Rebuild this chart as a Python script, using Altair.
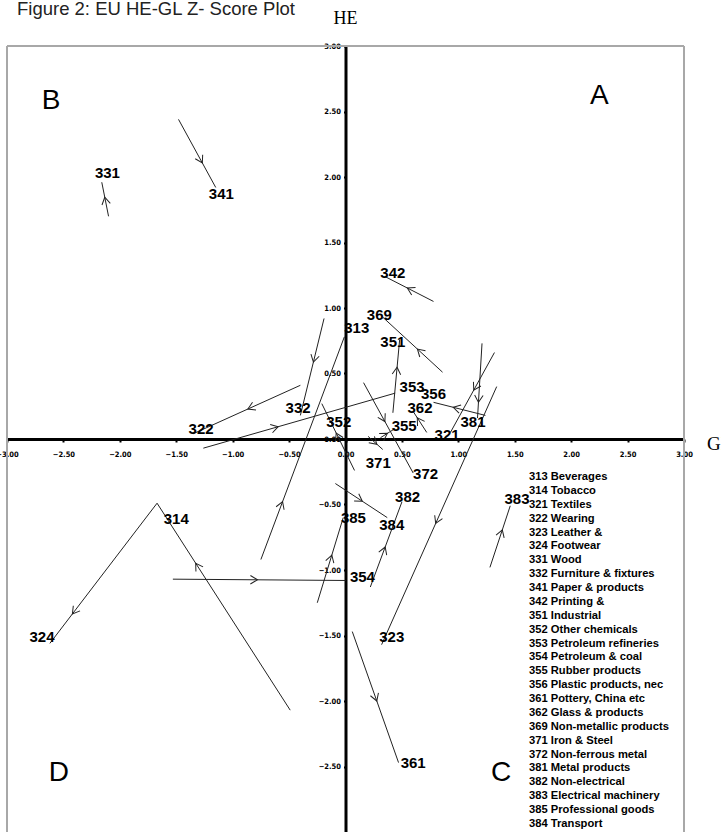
import math
import altair as alt
import pandas as pd

# ---- data -------------------------------------------------------------
codes = ["313", "314", "321", "322", "323", "324", "331", "332", "341", "342",
         "351", "352", "353", "354", "355", "356", "361", "362", "369", "371",
         "372", "381", "382", "383", "385", "384"]
names = ["Beverages", "Tobacco", "Textiles", "Wearing", "Leather &", "Footwear",
         "Wood", "Furniture & fixtures", "Paper & products", "Printing &",
         "Industrial", "Other chemicals", "Petroleum refineries", "Petroleum & coal",
         "Rubber products", "Plastic products, nec", "Pottery, China etc",
         "Glass & products", "Non-metallic products", "Iron & Steel",
         "Non-ferrous metal", "Metal products", "Non-electrical",
         "Electrical machinery", "Professional goods", "Transport"]

# GL (x) and HE (y) z-scores: start and end of each trajectory
start_x = [-0.75, -0.49, 1.32, -0.40, 1.34, -1.67, -2.10, -0.19, -1.48, 0.78,
           0.42, 0.08, -1.26, -1.53, 0.31, 1.24, 0.06, 0.72, 0.86, 0.20,
           0.16, 1.21, 0.22, 1.28, -0.25, -0.09]
start_y = [-0.92, -2.07, 0.66, 0.41, 0.40, -0.49, 1.70, 0.92, 2.44, 1.05,
           0.20, -0.24, -0.07, -1.07, 0.01, 0.18, -1.47, 0.05, 0.51, 0.02,
           0.43, 0.73, -1.13, -0.98, -1.25, -0.34]
end_x = [-0.01, -1.67, 0.93, -1.35, 0.32, -2.62, -2.16, -0.40, -1.15, 0.35,
         0.48, -0.21, 0.44, 0.00, 0.44, 0.78, 0.47, 0.60, 0.33, 0.33,
         0.60, 1.17, 0.50, 1.46, -0.02, 0.37]
end_y = [0.78, -0.49, 0.05, 0.04, -1.57, -1.56, 1.96, 0.18, 1.92, 1.24,
         0.76, 0.27, 0.35, -1.08, 0.08, 0.28, -2.47, 0.21, 0.93, -0.08,
         -0.26, 0.16, -0.48, -0.51, -0.60, -0.60]
# where each code label sits (data units)
label_x = [0.10, -1.50, 0.90, -1.28, 0.41, -2.69, -2.11, -0.42, -1.10, 0.42,
           0.42, -0.06, 0.59, 0.15, 0.52, 0.78, 0.60, 0.66, 0.30, 0.29,
           0.71, 1.13, 0.55, 1.52, 0.07, 0.41]
label_y = [0.85, -0.61, 0.03, 0.08, -1.51, -1.51, 2.03, 0.24, 1.87, 1.27,
           0.74, 0.13, 0.40, -1.05, 0.10, 0.34, -2.47, 0.24, 0.95, -0.18,
           -0.27, 0.13, -0.44, -0.46, -0.60, -0.66]
# fraction along each trajectory where the arrow head sits
arrow_at = [0.26, 0.71, 0.47, 0.49, 0.53, 0.79, 0.56, 0.45, 0.64, 0.54,
            0.62, 0.56, 0.39, 0.49, 0.47, 0.62, 0.53, 0.70, 0.42, 0.60,
            0.43, 0.79, 0.47, 0.61, 0.56, 0.52]

quad_letters = ["A", "B", "C", "D"]
quad_x = [2.25, -2.61, 1.38, -2.54]
quad_y = [2.62, 2.58, -2.55, -2.55]

tick_vals_x = [-3.0, -2.5, -2.0, -1.5, -1.0, -0.5, 0.0, 0.5, 1.0, 1.5, 2.0, 2.5, 3.0]
tick_vals_y = [-2.5, -2.0, -1.5, -1.0, -0.5, 0.0, 0.5, 1.0, 1.5, 2.0, 2.5, 3.0]

# ---- layout -------------------------------------------------------------
W, H = 677, 786
PPX, PPY = W / 6.0, H / 6.0

seg = pd.DataFrame({"code": codes, "x0": start_x, "y0": start_y,
                    "x1": end_x, "y1": end_y, "lx": label_x, "ly": label_y})
seg["ax"] = [a + f * (b - a) for a, b, f in zip(start_x, end_x, arrow_at)]
seg["ay"] = [a + f * (b - a) for a, b, f in zip(start_y, end_y, arrow_at)]
seg["ang"] = [
    math.degrees(math.atan2(-(y1 - y0) * PPY, (x1 - x0) * PPX)) % 360
    for x0, y0, x1, y1 in zip(start_x, start_y, end_x, end_y)
]

xs = alt.Scale(domain=[-3, 3], nice=False, zero=False)
ys = alt.Scale(domain=[-3, 3], nice=False, zero=False)
TICKFONT = "DejaVu Sans Condensed, sans-serif"
xaxis = alt.Axis(values=tick_vals_x, format=".2f", orient="bottom", offset=-H / 2,
                 title=None, grid=False, domainColor="black", domainWidth=3,
                 tickColor="black", tickSize=3, tickWidth=2, labelPadding=8,
                 labelFont=TICKFONT, labelFontSize=7.5, labelFontWeight="bold",
                 labelColor="black", labelFlush=False, labelOverlap=False)
yaxis = alt.Axis(values=tick_vals_y, format=".2f", orient="left", offset=-W / 2,
                 title=None, grid=False, domainColor="black", domainWidth=3,
                 tickColor="black", tickSize=2, tickWidth=2, labelPadding=3,
                 labelFont=TICKFONT, labelFontSize=7.5, labelFontWeight="bold",
                 labelColor="black", labelFlush=False, labelOverlap=False)

base = alt.Chart(seg)

lines = base.mark_rule(color="#222222", strokeWidth=1).encode(
    x=alt.X("x0:Q", scale=xs, axis=xaxis),
    y=alt.Y("y0:Q", scale=ys, axis=yaxis),
    x2="x1:Q", y2="y1:Q")

heads = base.mark_point(shape="M -1 -0.6 L 0 0 L -1 0.6", filled=False,
                        stroke="#222222", strokeWidth=1, size=200, opacity=1).encode(
    x=alt.X("ax:Q", scale=xs, axis=xaxis),
    y=alt.Y("ay:Q", scale=ys, axis=yaxis),
    angle=alt.Angle("ang:Q", scale=None))

labels = base.mark_text(font="Liberation Sans", fontSize=15, fontWeight="bold",
                        color="black", align="center", baseline="middle").encode(
    x=alt.X("lx:Q", scale=xs, axis=xaxis),
    y=alt.Y("ly:Q", scale=ys, axis=yaxis),
    text="code:N")

quad = alt.Chart(pd.DataFrame({"q": quad_letters, "qx": quad_x, "qy": quad_y})).mark_text(
    font="Liberation Sans", fontSize=28, color="black", align="center", baseline="middle"
).encode(x=alt.X("qx:Q", scale=xs, axis=xaxis), y=alt.Y("qy:Q", scale=ys, axis=yaxis),
         text="q:N")

frame_df = pd.DataFrame({"v": [0]})
frame_l = alt.Chart(frame_df).mark_rule(color="#a8a8a8", strokeWidth=2).encode(
    x=alt.X(datum=-3, scale=xs, axis=xaxis))
frame_r = alt.Chart(frame_df).mark_rule(color="#a8a8a8", strokeWidth=2).encode(
    x=alt.X(datum=3, scale=xs, axis=xaxis))
frame_t = alt.Chart(frame_df).mark_rule(color="#a8a8a8", strokeWidth=2).encode(
    y=alt.Y(datum=3, scale=ys, axis=yaxis))

legend_lines = [f"{c} {n}" for c, n in zip(codes, names)]
legend = alt.Chart(frame_df).mark_text(
    font="Liberation Sans", fontSize=11.2,
    fontWeight="bold", color="black", align="left", baseline="alphabetic",
    lineHeight=13.88
).encode(x=alt.value(522), y=alt.value(434), text=alt.value(legend_lines))

title = alt.Chart(frame_df).mark_text(
    font="Liberation Sans", fontSize=18.5, color="#222222", align="left",
    baseline="alphabetic").encode(x=alt.value(10), y=alt.value(-31.5),
                                  text=alt.value("Figure 2: EU HE-GL Z- Score Plot"))
he = alt.Chart(frame_df).mark_text(
    font="Liberation Serif", fontSize=18, color="black", align="center",
    baseline="alphabetic").encode(x=alt.value(338.5), y=alt.value(-22), text=alt.value("HE"))
gl = alt.Chart(frame_df).mark_text(
    font="Liberation Serif", fontSize=19, color="black", align="left",
    baseline="alphabetic").encode(x=alt.value(700), y=alt.value(404), text=alt.value("GL"))

chart = alt.layer(frame_l, frame_r, frame_t, lines, heads, labels, quad,
                  legend, title, he, gl).properties(
    width=W, height=H,
    autosize=alt.AutoSizeParams(type="none"),
    padding={"left": 7, "top": 46, "right": 37, "bottom": 0},
).configure_view(stroke=None).configure(background="white")

chart.save("out.html", embed_options={"renderer": "svg", "actions": False})
